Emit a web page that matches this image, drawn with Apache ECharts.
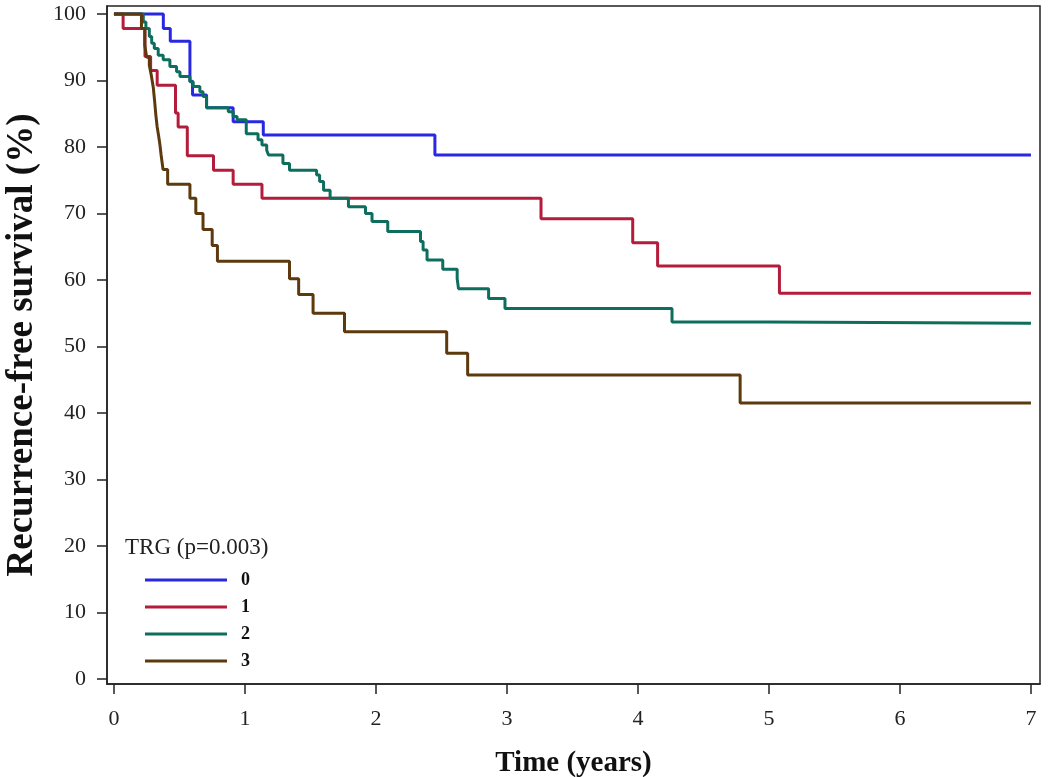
<!DOCTYPE html>
<html><head><meta charset="utf-8">
<script src="https://cdn.jsdelivr.net/npm/echarts@6/dist/echarts.min.js"></script>
<style>html,body{margin:0;padding:0;background:#fff}#c{width:1050px;height:777px}</style>
</head><body><div id="c"></div>
<script>
const xTicks = [0, 1, 2, 3, 4, 5, 6, 7];
const yTicks = [0, 10, 20, 30, 40, 50, 60, 70, 80, 90, 100];
const groupNames = ['0', '1', '2', '3'];
const legendTitle = 'TRG (p=0.003)';
const xTitle = 'Time (years)';
const yTitle = 'Recurrence-free survival (%)';

// [time (years), survival %]
const trg0 = [[0,100],[0.377,97.8],[0.43,95.9],[0.58,89.9],[0.6,87.8],[0.707,85.9],[0.91,83.8],[1.14,81.8],[2.45,78.8],[7,78.8]];
const trg1 = [[0,100],[0.07,97.8],[0.237,93.6],[0.28,91.5],[0.33,89.3],[0.47,85.1],[0.49,83.0],[0.56,78.7],[0.76,76.5],[0.91,74.4],[1.13,72.3],[3.26,69.2],[3.96,65.6],[4.15,62.1],[5.08,58.0],[7,58.0]];
const trg2 = [[0,100],[0.224,98.8],[0.244,97.8],[0.27,96.6],[0.288,95.6],[0.308,94.8],[0.338,93.8],[0.376,93.1],[0.427,92.1],[0.478,91.3],[0.504,90.6],[0.58,89.8],[0.605,89.1],[0.656,88.3],[0.68,87.6],[0.707,85.9],[0.873,85.3],[0.91,84.6],[0.94,84.1],[1.01,82.0],[1.10,81.1],[1.13,80.3],[1.166,79.5],[1.18,78.8],[1.29,77.5],[1.34,76.5],[1.547,75.8],[1.57,74.8],[1.6,73.5],[1.65,72.3],[1.79,71.0],[1.92,70.0],[1.97,68.8],[2.09,67.3],[2.34,65.8],[2.36,64.5],[2.39,63.0],[2.51,61.6],[2.62,60.2],[2.63,58.7],[2.86,57.2],[2.985,55.7],[4.26,53.7],[5.0,53.5],[7,53.5]];
const trg3 = [[0,100],[0.21,97.8],[0.235,95.3],[0.25,93.5],[0.27,92.3],[0.285,90.8],[0.3,89.0],[0.31,87.0],[0.32,84.8],[0.33,83.0],[0.34,81.8],[0.35,80.5],[0.36,78.8],[0.375,76.6],[0.41,74.4],[0.58,72.3],[0.625,70.0],[0.68,67.6],[0.75,65.2],[0.79,62.8],[1.34,60.2],[1.41,57.8],[1.52,55.0],[1.76,52.2],[2.54,49.0],[2.70,45.7],[4.78,41.5],[7,41.5]];

const seriesData = [trg0, trg1, trg2, trg3];
const colors = ['#2828e0', '#b41c3c', '#0e6e5e', '#5c3a0e'];
const serif = "'Liberation Serif','Times New Roman',serif";

const chart = echarts.init(document.getElementById('c'), null, {renderer: 'canvas'});
chart.setOption({
  animation: false,
  backgroundColor: '#fff',
  title: {
    text: legendTitle, left: 125, top: 536, padding: 0,
    textStyle: {fontFamily: serif, fontSize: 23, fontWeight: 'normal', color: '#222'}
  },
  legend: {
    orient: 'vertical', left: 145, top: 570, padding: 0,
    itemWidth: 82, itemHeight: 3, itemGap: 7, icon: 'rect',
    data: groupNames,
    textStyle: {fontFamily: serif, fontSize: 18, fontWeight: 'bold', color: '#111', lineHeight: 20, padding: [0, 0, 0, 9]}
  },
  grid: {left: 107, right: 10, top: 6, bottom: 93, show: true, borderColor: '#222', borderWidth: 1.5, outerBoundsMode: 'none'},
  xAxis: {
    type: 'value', min: -0.053, max: 7.069,
    name: xTitle, nameLocation: 'middle', nameGap: 65,
    nameTextStyle: {fontFamily: serif, fontSize: 29, fontWeight: 'bold', color: '#111'},
    axisLine: {show: true, onZero: false, lineStyle: {color: '#222', width: 1.5}},
    splitLine: {show: false},
    axisTick: {show: true, inside: false, length: 10, customValues: xTicks, lineStyle: {color: '#222', width: 1.5}},
    axisLabel: {customValues: xTicks, margin: 24, fontFamily: serif, fontSize: 22, color: '#222'}
  },
  yAxis: {
    type: 'value', min: -0.75, max: 101.2,
    name: yTitle, nameLocation: 'middle', nameGap: 66, nameRotate: 90,
    nameTextStyle: {fontFamily: serif, fontSize: 37, fontWeight: 'bold', color: '#111'},
    axisLine: {show: true, onZero: false, lineStyle: {color: '#222', width: 1.5}},
    splitLine: {show: false},
    axisTick: {show: true, inside: false, length: 10, customValues: yTicks, lineStyle: {color: '#222', width: 1.5}},
    axisLabel: {customValues: yTicks, margin: 21, fontFamily: serif, fontSize: 22, color: '#222'}
  },
  series: seriesData.map((d, i) => ({
    name: groupNames[i], type: 'line', step: 'end', data: d,
    showSymbol: false, symbol: 'none',
    itemStyle: {color: colors[i]},
    lineStyle: {color: colors[i], width: 3}
  }))
});
</script></body></html>
